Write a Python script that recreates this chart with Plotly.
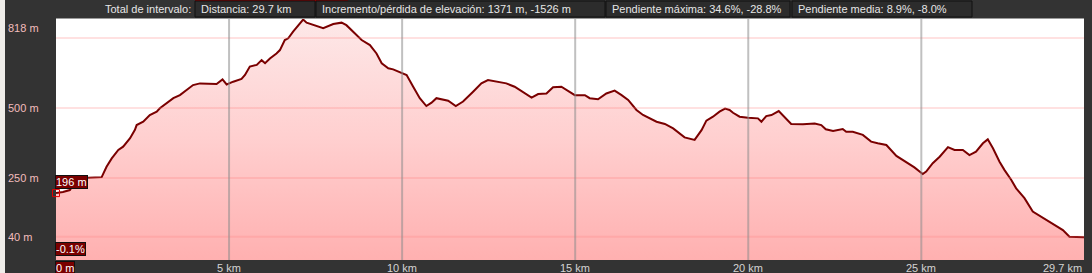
import plotly.graph_objects as go

# ---------------- data ----------------
distance_km = [0.00, 0.20, 0.40, 0.58, 0.75, 1.07, 1.32, 1.46, 1.61, 1.80, 1.94, 2.14, 2.28, 2.33, 2.52,
               2.71, 2.91, 3.00, 3.20, 3.39, 3.58, 3.77, 3.96, 4.16, 4.45, 4.64, 4.81, 4.93, 5.12, 5.36,
               5.46, 5.60, 5.80, 5.94, 6.04, 6.18, 6.37, 6.47, 6.61, 6.71, 6.85, 7.05, 7.14, 7.24, 7.43,
               7.72, 8.01, 8.25, 8.39, 8.59, 8.83, 9.07, 9.26, 9.41, 9.60, 9.74, 9.88, 10.13, 10.32, 10.51,
               10.70, 10.85, 10.99, 11.33, 11.55, 11.76, 12.05, 12.29, 12.48, 12.68, 13.01, 13.25, 13.54,
               13.74, 13.93, 14.17, 14.36, 14.60, 14.99, 15.28, 15.42, 15.66, 15.90, 16.14, 16.34, 16.53,
               16.77, 16.96, 17.35, 17.59, 17.83, 18.16, 18.45, 18.65, 18.79, 18.98, 19.17, 19.33, 19.46,
               19.56, 19.75, 19.99, 20.28, 20.38, 20.52, 20.67, 20.88, 21.05, 21.24, 21.58, 21.92, 22.11,
               22.24, 22.45, 22.73, 22.83, 23.02, 23.31, 23.55, 23.74, 23.99, 24.28, 24.56, 24.80, 24.95,
               25.04, 25.14, 25.33, 25.53, 25.77, 25.96, 26.20, 26.39, 26.58, 26.78, 26.92, 27.07, 27.26,
               27.40, 27.60, 27.74, 27.98, 28.22, 28.51, 28.80, 29.09, 29.28, 29.70]
elevation_m = [196, 200, 207, 243, 250, 252, 253, 290, 320, 350, 362, 392, 422, 439, 451,
               475, 487, 499, 519, 535, 546, 564, 582, 588, 588, 586, 602, 584, 594, 604,
               618, 648, 654, 671, 660, 677, 695, 707, 743, 749, 773, 803, 816, 805, 796,
               785, 800, 805, 796, 772, 743, 725, 695, 660, 642, 638, 630, 618, 576, 535,
               507, 519, 535, 526, 507, 523, 558, 588, 600, 596, 588, 576, 552,
               537, 550, 552, 574, 576, 546, 546, 535, 531, 552, 562, 546, 529,
               493, 475, 451, 443, 427, 395, 386, 421, 455, 469, 487, 498, 493,
               483, 469, 465, 463, 451, 471, 475, 489, 469, 443, 442, 445, 439,
               424, 418, 425, 415, 415, 404, 380, 374, 368, 329, 308, 288, 273,
               264, 273, 303, 326, 360, 350, 350, 332, 344, 374, 388, 356, 308,
               279, 243, 213, 178, 130, 108, 88, 64, 40, 38]

x_grid_km = [5, 10, 15, 20, 25]
x_tick_labels = ["5 km", "10 km", "15 km", "20 km", "25 km"]
y_grid_m = [40, 250, 500, 750]
y_tick_vals = [818, 500, 250, 40]
y_tick_labels = ["818 m", "500 m", "250 m", "40 m"]
total_km = 29.7
y_min, y_max = -43, 818

info_label = "Total de intervalo:"
info_boxes = ["Distancia: 29.7 km",
              "Incremento/pérdida de elevación: 1371 m, -1526 m",
              "Pendiente máxima: 34.6%, -28.8%",
              "Pendiente media: 8.9%, -8.0%"]
start_label = "196 m"
slope_label = "-0.1%"
zero_label = "0 m"

# ---------------- layout geometry (pixels) ----------------
W, H = 1092, 273
L, R, T, B = 56, 8, 19, 13
PW, PH = W - L - R, H - T - B


def px(x):
    return (x - L) / PW


def py(y):
    return (H - B - y) / PH


FONT = "Liberation Sans, Arial, sans-serif"
BG = "#333333"

fig = go.Figure()

# baseline for fill to bottom of plot
fig.add_trace(go.Scatter(x=distance_km, y=[y_min] * len(distance_km), mode="lines",
                         line=dict(width=0, color="rgba(0,0,0,0)"), hoverinfo="skip",
                         showlegend=False))
fig.add_trace(go.Scatter(
    x=distance_km, y=elevation_m, mode="lines",
    line=dict(color="#7a0000", width=2),
    fill="tonexty",
    fillgradient=dict(type="vertical", start=y_min, stop=y_max,
                      colorscale=[[0, "#ffb0b0"], [0.5, "#ffcfcf"], [1, "#fde8e8"]]),
    showlegend=False, hoverinfo="skip"))

# start marker
fig.add_trace(go.Scatter(x=[distance_km[0]], y=[elevation_m[0]], mode="markers",
                         marker=dict(symbol="square-open", size=7, color="#e00000",
                                     line=dict(width=1, color="#e00000")),
                         cliponaxis=False, showlegend=False, hoverinfo="skip"))

shapes = []
# horizontal pink gridlines
for g in y_grid_m:
    shapes.append(dict(type="line", xref="x", yref="y", x0=0, x1=total_km, y0=g, y1=g,
                       line=dict(color="rgba(255,120,120,0.22)", width=2), layer="above"))
# vertical gray gridlines
for g in x_grid_km:
    shapes.append(dict(type="line", xref="x", yref="paper", x0=g, x1=g, y0=0, y1=1,
                       line=dict(color="rgba(140,140,140,0.55)", width=2), layer="above"))
# top border of plot
shapes.append(dict(type="line", xref="paper", yref="paper", x0=0, x1=1, y0=py(18.5), y1=py(18.5),
                   line=dict(color="#9a9a9a", width=1)))
# left light strip
shapes.append(dict(type="rect", xref="paper", yref="paper", x0=px(0), x1=px(5), y0=py(H), y1=py(0),
                   fillcolor="#efede9", line=dict(width=0)))
# red indicator on top
shapes.append(dict(type="rect", xref="paper", yref="paper", x0=px(195), x1=px(348), y0=py(2), y1=py(0),
                   fillcolor="#8a0000", line=dict(width=0)))

annotations = []
# info bar
annotations.append(dict(text=info_label, xref="paper", yref="paper", x=px(193), y=py(9),
                        xanchor="right", yanchor="middle", showarrow=False,
                        font=dict(family=FONT, size=11, color="#e6e6e6")))
box_edges = [(195, 315), (316, 605), (606, 790), (792, 972)]
for (x0, x1), txt in zip(box_edges, info_boxes):
    shapes.append(dict(type="rect", xref="paper", yref="paper", x0=px(x0), x1=px(x1),
                       y0=py(17), y1=py(1), fillcolor="#2c2c2c",
                       line=dict(color="#111111", width=1)))
    annotations.append(dict(text=txt, xref="paper", yref="paper", x=px(x0 + 4), y=py(9),
                            xanchor="left", yanchor="middle", showarrow=False,
                            font=dict(family=FONT, size=11, color="#e6e6e6")))

# y labels
for v, t in zip(y_tick_vals, y_tick_labels):
    if v == y_max:
        annotations.append(dict(text=t, xref="paper", yref="paper", x=0, y=1, xshift=-50,
                                xanchor="left", yanchor="top", yshift=-1, showarrow=False,
                                font=dict(family=FONT, size=11, color="#f2bcbc")))
    else:
        annotations.append(dict(text=t, xref="paper", yref="y", x=0, y=v, xshift=-50,
                                xanchor="left", yanchor="middle", showarrow=False,
                                font=dict(family=FONT, size=11, color="#f2bcbc")))

# x labels
for v, t in zip(x_grid_km, x_tick_labels):
    annotations.append(dict(text=t, xref="x", yref="paper", x=v, y=0, xanchor="center",
                            yanchor="top", showarrow=False,
                            font=dict(family=FONT, size=11, color="#d4d4d4")))
annotations.append(dict(text=f"{total_km} km", xref="x", yref="paper", x=total_km, y=0,
                        xanchor="right", yanchor="top", showarrow=False,
                        font=dict(family=FONT, size=11, color="#d4d4d4")))
annotations.append(dict(text=zero_label, xref="paper", yref="paper", x=0, y=0, xshift=-1,
                        xanchor="left", yanchor="top", yshift=-1, showarrow=False,
                        bgcolor="#7a0000", bordercolor="#111111", borderwidth=1, borderpad=0,
                        font=dict(family=FONT, size=11, color="#ffffff")))
# start label boxes
annotations.append(dict(text=start_label, xref="paper", yref="paper", x=0, y=py(175), xshift=-1,
                        xanchor="left", yanchor="top", showarrow=False,
                        bgcolor="#7a0000", bordercolor="#111111", borderwidth=1, borderpad=0,
                        font=dict(family=FONT, size=11, color="#ffffff")))
annotations.append(dict(text=slope_label, xref="paper", yref="paper", x=0, y=py(242), xshift=-1,
                        xanchor="left", yanchor="top", showarrow=False,
                        bgcolor="#7a0000", bordercolor="#111111", borderwidth=1, borderpad=0,
                        font=dict(family=FONT, size=11, color="#ffffff")))

fig.update_layout(
    width=W, height=H, autosize=False,
    margin=dict(l=L, r=R, t=T, b=B, pad=0),
    paper_bgcolor=BG, plot_bgcolor="#ffffff",
    xaxis=dict(range=[0, total_km], showgrid=False, zeroline=False, showticklabels=False,
               ticks="", fixedrange=True),
    yaxis=dict(range=[y_min, y_max], showgrid=False, zeroline=False, showticklabels=False,
               ticks="", fixedrange=True),
    shapes=shapes, annotations=annotations, showlegend=False,
)

fig.write_html("out.html", config={"displayModeBar": False})
